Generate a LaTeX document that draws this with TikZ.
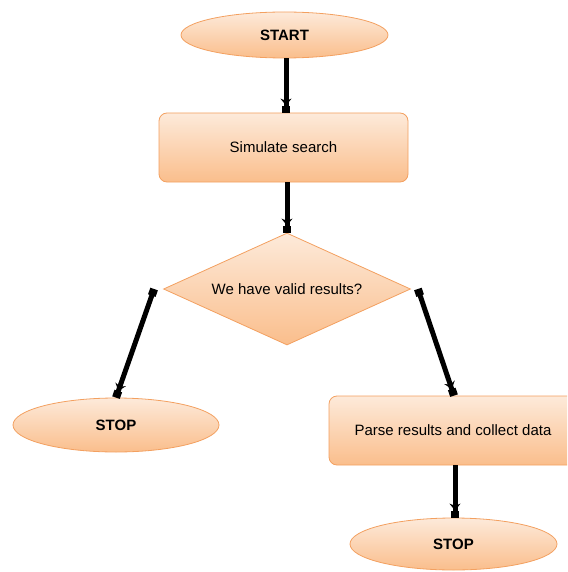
\documentclass[tikz,border=0pt]{standalone}
\usepackage{fontspec}
\setmainfont{Liberation Sans}
\usetikzlibrary{shapes.geometric,arrows.meta,calc}
\definecolor{bord}{RGB}{243,160,96}
\definecolor{topc}{RGB}{253,234,218}
\definecolor{botc}{RGB}{250,190,140}
\tikzset{
  box/.style={draw=bord, line width=0.8pt, top color=topc, bottom color=botc,
    inner sep=0pt, font=\fontsize{15}{18}\selectfont},
  term/.style={box, ellipse, font=\fontsize{15}{18}\selectfont\bfseries},
  proc/.style={box, rectangle, rounded corners=8pt},
  dec/.style={box, diamond, aspect=2.2},
  conn/.style={line width=5pt, -{Stealth[length=7pt,width=11pt]Square[length=7pt,width=8pt]}},
  conn2/.style={conn, {Square[length=7pt,width=8pt]}-{Stealth[length=7pt,width=11pt]Square[length=7pt,width=8pt]}}
}
\begin{document}
\begin{tikzpicture}
\useasboundingbox (0pt,0pt) rectangle (567pt,-572pt);
\clip (0pt,0pt) rectangle (567pt,-572pt);
\node[term, minimum width=207pt, minimum height=46pt] (start) at (284.5pt,-35pt) {START};
\node[proc, minimum width=249pt, minimum height=69pt] (sim) at (283.5pt,-147.5pt) {Simulate search};
\node[dec, minimum width=247pt, minimum height=112pt] (dec) at (287pt,-289pt) {We have valid results?};
\node[term, minimum width=206pt, minimum height=54pt] (stopl) at (116pt,-425pt) {STOP};
\node[proc, minimum width=248pt, minimum height=69pt] (parse) at (453pt,-430.5pt) {Parse results and collect data};
\node[term, minimum width=207pt, minimum height=52pt] (stopr) at (453.5pt,-544pt) {STOP};
\coordinate (dl) at ($(dec.west)+(-9pt,0pt)$);
\coordinate (dr) at ($(dec.east)+(7pt,0pt)$);
\draw[conn] (start.south -| 286pt,0) -- (sim.north -| 286pt,0);
\draw[conn] (sim.south -| 287pt,0) -- (dec.north);
\draw[conn2] (dl) -- (stopl.north);
\draw[conn2] (dr) -- (parse.north -| 454pt,0);
\draw[conn] (parse.south -| 455pt,0) -- (stopr.north -| 455pt,0);
\end{tikzpicture}
\end{document}
